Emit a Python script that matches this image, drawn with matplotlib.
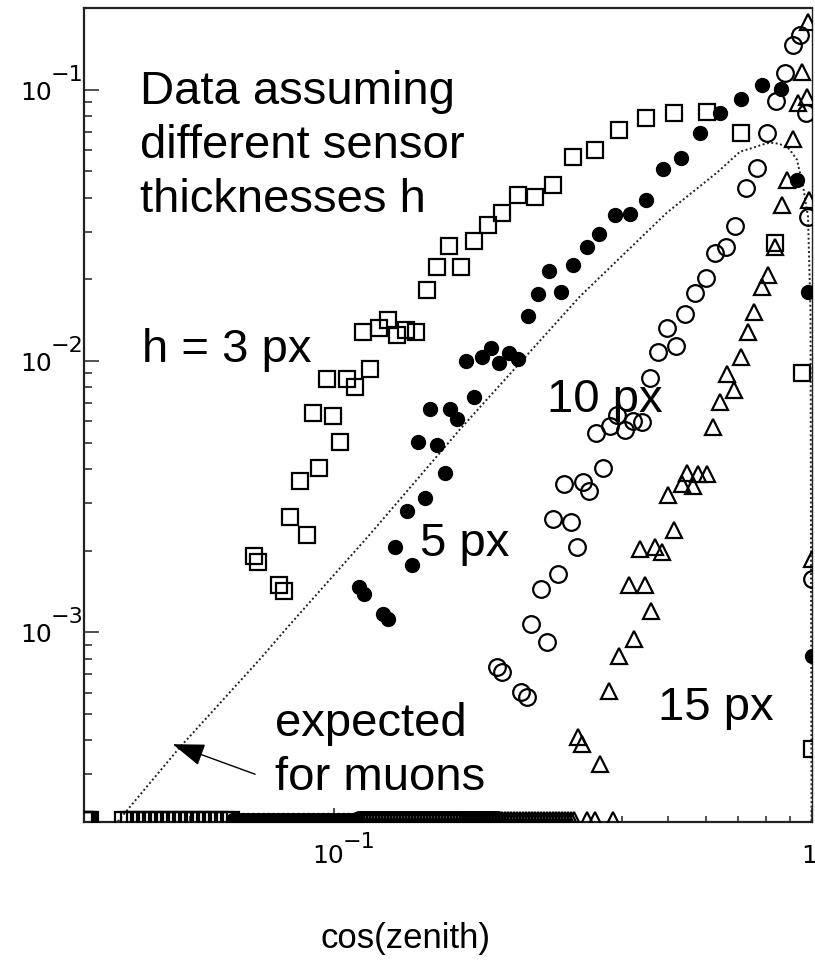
import numpy as np
import matplotlib
matplotlib.use("Agg")
import matplotlib.pyplot as plt
from matplotlib.ticker import FixedLocator, LogLocator, NullFormatter
from matplotlib.transforms import blended_transform_factory, offset_copy

plt.rcParams["font.family"] = ["Liberation Sans", "DejaVu Sans"]

# ---- data: fraction of tracks per cos(zenith) bin -------------------------
# h = 3 px (open squares)
sq_x = [0.0680, 0.0693, 0.0767, 0.0786, 0.0809, 0.0849, 0.0878, 0.0904, 0.0930, 0.0967,
        0.0995, 0.1029, 0.1065, 0.1106, 0.1150, 0.1189, 0.1242, 0.1297, 0.1355, 0.1414,
        0.1484, 0.1565, 0.1643, 0.1740, 0.1844, 0.1963, 0.2100, 0.2246, 0.2426, 0.2633,
        0.2872, 0.3162, 0.3516, 0.3947, 0.4494, 0.5143, 0.6030, 0.7105, 0.8369, 0.9529, 1.0]
sq_y = [1.91e-3, 1.81e-3, 1.50e-3, 1.42e-3, 2.67e-3, 3.60e-3, 2.28e-3, 6.46e-3, 4.02e-3, 8.55e-3,
        6.25e-3, 5.01e-3, 8.55e-3, 7.99e-3, 1.274e-2, 9.31e-3, 1.318e-2, 1.411e-2, 1.242e-2, 1.306e-2,
        1.274e-2, 1.834e-2, 2.230e-2, 2.663e-2, 2.230e-2, 2.779e-2, 3.183e-2, 3.524e-2, 4.106e-2, 4.036e-2,
        4.467e-2, 5.66e-2, 6.01e-2, 7.12e-2, 7.89e-2, 8.23e-2, 8.30e-2, 6.94e-2, 2.732e-2, 9.07e-3, 3.71e-4]

# h = 5 px (filled circles)
fc_x = [0.1128, 0.1155, 0.1266, 0.1297, 0.1342, 0.1421, 0.1457, 0.1499, 0.1550, 0.1588,
        0.1643, 0.1707, 0.1748, 0.1808, 0.1889, 0.1963, 0.2040, 0.2131, 0.2214, 0.2323,
        0.2426, 0.2546, 0.2672, 0.2818, 0.2985, 0.3162, 0.3383, 0.3584, 0.3870, 0.4160,
        0.4494, 0.4878, 0.5319, 0.5830, 0.6419, 0.7105, 0.7862, 0.8612, 0.9303, 0.9808, 1.0]
fc_y = [1.465e-3, 1.39e-3, 1.165e-3, 1.117e-3, 2.07e-3, 2.79e-3, 1.77e-3, 5.01e-3, 3.14e-3, 6.63e-3,
        4.89e-3, 3.88e-3, 6.63e-3, 6.09e-3, 9.96e-3, 7.34e-3, 1.039e-2, 1.121e-2, 9.87e-3, 1.066e-2,
        1.021e-2, 1.471e-2, 1.773e-2, 2.154e-2, 1.803e-2, 2.266e-2, 2.641e-2, 2.949e-2, 3.464e-2, 3.494e-2,
        3.934e-2, 5.117e-2, 5.617e-2, 6.94e-2, 8.23e-2, 9.27e-2, 0.1043, 0.1009, 4.661e-2, 1.803e-2, 8.16e-4]

# h = 10 px (open circles)
oc_x = [0.2193, 0.2246, 0.2462, 0.2534, 0.2583, 0.2710, 0.2790, 0.2872, 0.2942, 0.3028,
        0.3132, 0.3224, 0.3318, 0.3416, 0.3533, 0.3654, 0.3780, 0.3908, 0.4062, 0.4222,
        0.4410, 0.4583, 0.4763, 0.4974, 0.5194, 0.5424, 0.5691, 0.6000, 0.6266, 0.6607,
        0.6900, 0.7274, 0.7670, 0.8050, 0.8406, 0.8778, 0.9128, 0.9438, 0.9714, 0.9808, 1.0]
oc_y = [7.43e-4, 7.13e-4, 6.01e-4, 5.77e-4, 1.07e-3, 1.45e-3, 9.19e-4, 2.61e-3, 1.635e-3, 3.51e-3,
        2.56e-3, 2.07e-3, 3.57e-3, 3.33e-3, 5.45e-3, 4.02e-3, 5.74e-3, 6.35e-3, 5.55e-3, 5.99e-3,
        5.94e-3, 8.69e-3, 1.075e-2, 1.328e-2, 1.14e-2, 1.484e-2, 1.788e-2, 2.030e-2, 2.510e-2, 2.641e-2,
        3.155e-2, 4.355e-2, 5.160e-2, 6.94e-2, 9.11e-2, 0.1155, 0.1465, 0.1594, 8.23e-2, 3.405e-2, 1.567e-3]

# h = 15 px (open triangles)
tr_x = [0.3240, 0.3303, 0.3603, 0.3762, 0.3947, 0.4141, 0.4242, 0.4365, 0.4472, 0.4603,
        0.4692, 0.4855, 0.4997, 0.5143, 0.5346, 0.5476, 0.5636, 0.5773, 0.6030, 0.6206,
        0.6419, 0.6640, 0.6867, 0.7105, 0.7347, 0.7564, 0.7862, 0.8092, 0.8369, 0.8655,
        0.8866, 0.9128, 0.9350, 0.9529, 0.9762, 0.979, 0.984, 1.0]
tr_y = [4.10e-4, 3.87e-4, 3.26e-4, 6.06e-4, 8.16e-4, 1.50e-3, 9.42e-4, 2.02e-3, 1.50e-3, 1.195e-3,
        2.07e-3, 1.97e-3, 3.22e-3, 2.39e-3, 3.51e-3, 3.88e-3, 3.45e-3, 3.82e-3, 3.82e-3, 5.69e-3,
        7.09e-3, 8.92e-3, 7.85e-3, 1.039e-2, 1.274e-2, 1.51e-2, 1.881e-2, 2.083e-2, 2.641e-2, 3.771e-2,
        4.661e-2, 6.60e-2, 8.96e-2, 0.1165, 9.42e-2, 0.178, 3.93e-2, 1.858e-3]

# empty bins (zero content) of each series; drawn on the floor of the log axis
sq_empty_x = [0.0300, 0.0303, 0.0306, 0.0309, 0.0362, 0.0373, 0.0384, 0.0395, 0.0406, 0.0418,
              0.0430, 0.0443, 0.0456, 0.0469, 0.0483, 0.0497, 0.0512, 0.0527, 0.0542, 0.0558,
              0.0575, 0.0592, 0.0609]
fc_empty_x = [0.0615, 0.0630, 0.0645, 0.0661, 0.0677, 0.0693, 0.0710, 0.0727, 0.0745, 0.0763,
              0.0782, 0.0801, 0.0820, 0.0840, 0.0861, 0.0882, 0.0903, 0.0925, 0.0948, 0.0971,
              0.0994, 0.1019, 0.1043, 0.1069, 0.1095, 0.1121]
oc_empty_x = [0.1128, 0.1144, 0.1161, 0.1178, 0.1195, 0.1213, 0.1230, 0.1248, 0.1266, 0.1285,
              0.1303, 0.1322, 0.1342, 0.1361, 0.1381, 0.1401, 0.1422, 0.1442, 0.1463, 0.1485,
              0.1506, 0.1528, 0.1550, 0.1573, 0.1596, 0.1619, 0.1643, 0.1666, 0.1691, 0.1715,
              0.1740, 0.1766, 0.1791, 0.1817, 0.1844, 0.1871, 0.1898, 0.1926, 0.1954, 0.1982,
              0.2011, 0.2040, 0.2070, 0.2100, 0.2131, 0.2162, 0.2193]
tr_empty_x = [0.1862, 0.1889, 0.1917, 0.1945, 0.1973, 0.2002, 0.2031, 0.2060, 0.2090, 0.2121,
              0.2152, 0.2183, 0.2215, 0.2247, 0.2280, 0.2313, 0.2346, 0.2381, 0.2415, 0.2450,
              0.2486, 0.2522, 0.2559, 0.2596, 0.2634, 0.2672, 0.2711, 0.2751, 0.2791, 0.2831,
              0.2873, 0.2914, 0.2957, 0.3000, 0.3043, 0.3088, 0.3133, 0.3178,
              0.3383, 0.3516, 0.3835]

# expected distribution for muons
mu_x = [0.0353, 0.0476, 0.070, 0.0798, 0.119, 0.1835, 0.327, 0.497, 0.633, 0.707, 0.753,
        0.786, 0.817, 0.849, 0.886, 0.908, 0.930, 0.958, 0.981, 0.993, 0.998]
mu_y = [2.01e-4, 3.77e-4, 7.96e-4, 1.04e-3, 2.30e-3, 5.60e-3, 1.73e-2, 3.52e-2, 4.95e-2, 5.91e-2,
        6.11e-2, 6.27e-2, 6.38e-2, 6.33e-2, 6.17e-2, 5.86e-2, 5.52e-2, 4.40e-2, 3.40e-2, 1.5e-2, 1.5e-4]

# tick labels: (position, mantissa, exponent)
y_ticks = [(1e-3, "10", "\u22123"), (1e-2, "10", "\u22122"), (1e-1, "10", "\u22121")]
x_ticks = [(0.1, "10", "\u22121"), (1.0, "1", "")]

XMIN, XMAX = 0.03, 1.0
YMIN, YMAX = 2.0e-4, 0.2
FLOOR = YMIN * 1.02   # where empty bins are drawn (just above the bottom frame)

# ---- figure ---------------------------------------------------------------
W, H = 815, 960
fig = plt.figure(figsize=(W / 100, H / 100), dpi=100)
ax = fig.add_axes([84 / W, 1 - 822 / H, (812 - 84) / W, (822 - 8) / H])
ax.set_xscale("log")
ax.set_yscale("log")
ax.set_xlim(XMIN, XMAX)
ax.set_ylim(YMIN, YMAX)

open_kw = dict(linestyle="none", mfc="none", mec="black", mew=1.6)
fill_kw = dict(linestyle="none", color="black")

ax.plot(mu_x, mu_y, color="#222222", lw=1.4, linestyle=(0, (1, 1.3)), zorder=2)

ax.plot(sq_x, sq_y, marker="s", ms=12, **open_kw, zorder=3)
ax.plot(fc_x, fc_y, marker="o", ms=10, **fill_kw, zorder=3)
ax.plot(oc_x, oc_y, marker="o", ms=12, **open_kw, zorder=3)
ax.plot(tr_x, tr_y, marker="^", ms=12, **open_kw, zorder=3)

floor = lambda xs: np.full(len(xs), FLOOR)
ax.plot(sq_empty_x, floor(sq_empty_x), marker="s", ms=12, **open_kw, zorder=3)
ax.plot(fc_empty_x, floor(fc_empty_x), marker="o", ms=10, **fill_kw, zorder=3)
ax.plot(oc_empty_x, floor(oc_empty_x), marker="o", ms=12, **open_kw, zorder=3)
ax.plot(tr_empty_x, floor(tr_empty_x), marker="^", ms=12, **open_kw, zorder=3)

# ---- axes styling ---------------------------------------------------------
for s in ax.spines.values():
    s.set_linewidth(1.6)
    s.set_color("#222222")
ax.spines["right"].set_linewidth(1.0)

ax.yaxis.set_major_locator(FixedLocator([t[0] for t in y_ticks]))
ax.yaxis.set_minor_locator(LogLocator(base=10, subs=np.arange(2, 10), numticks=20))
ax.xaxis.set_major_locator(FixedLocator([t[0] for t in x_ticks]))
ax.xaxis.set_minor_locator(LogLocator(base=10, subs=np.arange(2, 10), numticks=20))
for a in (ax.xaxis, ax.yaxis):
    a.set_major_formatter(NullFormatter())
    a.set_minor_formatter(NullFormatter())

ax.tick_params(which="both", direction="in", top=False, right=False, color="#333333", width=1.2)
ax.tick_params(axis="y", which="major", length=11)
ax.tick_params(axis="y", which="minor", length=6)
ax.tick_params(axis="x", which="major", length=10)
ax.tick_params(axis="x", which="minor", length=4)

# power-of-ten tick labels with a large exponent
lab_font = dict(family="DejaVu Sans", color="black", va="baseline")
ytr = blended_transform_factory(fig.transFigure, ax.transData)
for val, man, ex in y_ticks:
    ax.text(52 / W, val, man, fontsize=18, ha="right",
            transform=offset_copy(ytr, fig=fig, y=-10, units="dots"), **lab_font)
    ax.text(51 / W, val, ex, fontsize=16, ha="left",
            transform=offset_copy(ytr, fig=fig, y=9, units="dots"), **lab_font)
xtr = blended_transform_factory(ax.transData, fig.transFigure)
for val, man, ex in x_ticks:
    if ex:
        ax.text(val, 1 - 863 / H, man, fontsize=18, ha="right",
                transform=offset_copy(xtr, fig=fig, x=10, units="dots"), **lab_font)
        ax.text(val, 1 - 848 / H, ex, fontsize=16, ha="left",
                transform=offset_copy(xtr, fig=fig, x=9, units="dots"), **lab_font)
    else:
        ax.text(val, 1 - 863 / H, man, fontsize=18, ha="center",
                transform=offset_copy(xtr, fig=fig, x=-3, units="dots"), **lab_font)

# ---- annotations ----------------------------------------------------------
def ftext(px, py, s, **kw):
    fig.text(px / W, 1 - py / H, s, **kw)

big = dict(fontsize=34, color="black", ha="left", va="baseline", linespacing=1.29)
ftext(140, 212, "Data assuming\ndifferent sensor\nthicknesses h", **big)
ftext(142, 362, "h = 3 px", **big)
ftext(420, 556, "5 px", **big)
ftext(547, 412, "10 px", **big)
ftext(658, 720, "15 px", **big)
ftext(275, 790, "expected\nfor muons", **big)
ftext(405, 948, "cos(zenith)", fontsize=25, ha="center", va="baseline")

ax.annotate("", xy=(0.0460, 3.87e-4), xytext=(0.0684, 3.00e-4),
            arrowprops=dict(arrowstyle="-|>,head_length=1.0,head_width=0.35",
                            mutation_scale=20, lw=1.0, color="black",
                            shrinkA=0, shrinkB=0))

fig.savefig("out.png", dpi=100)
